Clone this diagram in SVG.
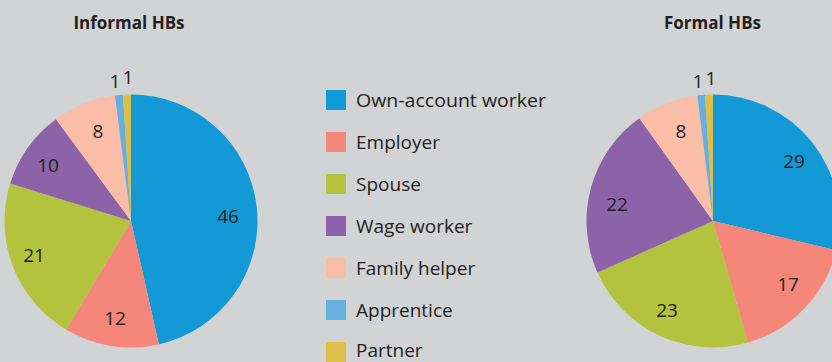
<svg xmlns="http://www.w3.org/2000/svg" width="832" height="362" viewBox="0 0 832 362">
<style>
.t{font-family:"Open Sans","Liberation Sans",sans-serif;fill:#231f20}
.title{font-size:17px;font-weight:bold;text-anchor:middle}
.num{font-size:19px;text-anchor:middle}
.leg{font-size:19px}
.own{fill:#1399d6}.emp{fill:#f4867a}.spo{fill:#b3c33e}.wag{fill:#8c62a8}.fam{fill:#f9bda8}.app{fill:#66b0e0}.par{fill:#dcbe48}
</style>
<rect x="0" y="0" width="832" height="362" fill="#d1d3d4"/>
<g id="informal">
<text class="t title" x="129" y="29">Informal HBs</text>
<path class="own" d="M131,221 L131,94.5 A126.5,126.5 0 0 1 158.87,344.39 Z"/>
<path class="emp" d="M131,221 L158.87,344.39 A126.5,126.5 0 0 1 66.02,329.53 Z"/>
<path class="spo" d="M131,221 L66.02,329.53 A126.5,126.5 0 0 1 10.20,183.44 Z"/>
<path class="wag" d="M131,221 L10.20,183.44 A126.5,126.5 0 0 1 56.00,119.13 Z"/>
<path class="fam" d="M131,221 L56.00,119.13 A126.5,126.5 0 0 1 114.99,95.51 Z"/>
<path class="app" d="M131,221 L114.99,95.51 A126.5,126.5 0 0 1 122.97,94.75 Z"/>
<path class="par" d="M131,221 L122.97,94.75 A126.5,126.5 0 0 1 131,94.5 Z"/>
<text class="t num" x="228" y="223">46</text>
<text class="t num" x="115" y="325">12</text>
<text class="t num" x="34" y="262">21</text>
<text class="t num" x="48" y="172">10</text>
<text class="t num" x="98" y="138">8</text>
<text class="t num" x="115" y="88">1</text>
<text class="t num" x="128" y="84">1</text>
</g>
<g id="formal">
<text class="t title" x="712.5" y="29">Formal HBs</text>
<path class="own" d="M713,221 L713,94.5 A126.5,126.5 0 0 1 836.07,250.25 Z"/>
<path class="emp" d="M713,221 L836.07,250.25 A126.5,126.5 0 0 1 747.95,342.58 Z"/>
<path class="spo" d="M713,221 L747.95,342.58 A126.5,126.5 0 0 1 597.48,272.57 Z"/>
<path class="wag" d="M713,221 L597.48,272.57 A126.5,126.5 0 0 1 639.29,118.19 Z"/>
<path class="fam" d="M713,221 L639.29,118.19 A126.5,126.5 0 0 1 697.30,95.47 Z"/>
<path class="app" d="M713,221 L697.30,95.47 A126.5,126.5 0 0 1 705.14,94.74 Z"/>
<path class="par" d="M713,221 L705.14,94.74 A126.5,126.5 0 0 1 713,94.5 Z"/>
<text class="t num" x="794" y="168">29</text>
<text class="t num" x="788" y="291">17</text>
<text class="t num" x="667" y="317">23</text>
<text class="t num" x="617" y="211">22</text>
<text class="t num" x="681" y="138">8</text>
<text class="t num" x="698" y="88">1</text>
<text class="t num" x="711" y="85">1</text>
</g>
<g id="legend">
<rect class="own" x="326" y="90" width="20" height="20"/>
<text class="t leg" x="356" y="107" textLength="190" lengthAdjust="spacingAndGlyphs">Own-account worker</text>
<rect class="emp" x="326" y="132" width="20" height="20"/>
<text class="t leg" x="356" y="149">Employer</text>
<rect class="spo" x="326" y="174" width="20" height="20"/>
<text class="t leg" x="356" y="191">Spouse</text>
<rect class="wag" x="326" y="216" width="20" height="20"/>
<text class="t leg" x="356" y="233">Wage worker</text>
<rect class="fam" x="326" y="258" width="20" height="20"/>
<text class="t leg" x="356" y="275">Family helper</text>
<rect class="app" x="326" y="300" width="20" height="20"/>
<text class="t leg" x="356" y="317">Apprentice</text>
<rect class="par" x="326" y="342" width="20" height="20"/>
<text class="t leg" x="356" y="357">Partner</text>
</g>
</svg>
